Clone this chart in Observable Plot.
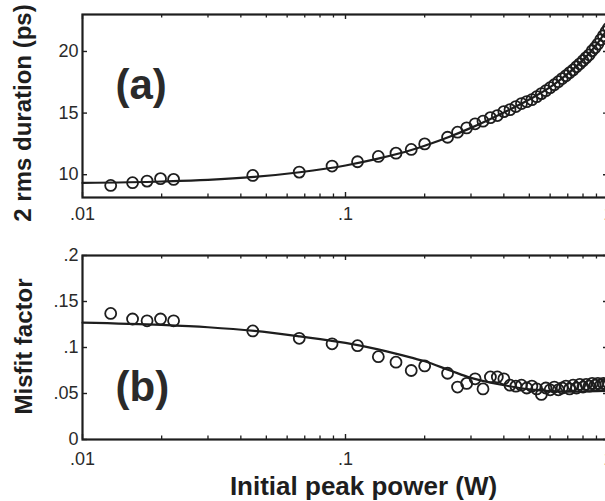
<!DOCTYPE html>
<html>
<head>
<meta charset="utf-8">
<script src="https://cdn.jsdelivr.net/npm/d3@7"></script>
<script src="https://cdn.jsdelivr.net/npm/@observablehq/plot@0.6"></script>
<style>
  html, body { margin: 0; padding: 0; background: white; }
  #chart { width: 605px; height: 501px; overflow: hidden; }
  #chart svg { display: block; }
</style>
</head>
<body>
<div id="chart"></div>
<script>
// ---- data ----
const power = [0.0128,0.0155,0.0176,0.0198,0.0222,0.0444,0.0667,0.0889,0.1111,0.1333,0.1556,0.1778,0.2000,
  0.2444,0.2667,0.2889,0.3111,0.3333,0.3556,0.3778,0.4000,0.4222,0.4444,0.4667,0.4889,0.5111,0.5333,0.5556,
  0.5778,0.6000,0.6222,0.6444,0.6667,0.6889,0.7111,0.7333,0.7556,0.7778,0.8000,0.8222,0.8444,0.8667,0.8889,
  0.9111,0.9333,0.9556,0.9778,1.0000];
const duration = [9.13,9.35,9.48,9.68,9.62,9.94,10.21,10.70,11.05,11.48,11.75,12.05,12.50,
  13.04,13.45,13.80,14.13,14.34,14.63,14.80,15.12,15.28,15.53,15.77,15.93,16.09,16.33,16.58,
  16.82,17.06,17.30,17.55,17.80,18.03,18.28,18.50,18.76,19.00,19.25,19.50,19.73,20.06,20.30,
  20.60,20.95,21.27,21.60,21.90];
const misfit = [0.137,0.131,0.129,0.131,0.129,0.118,0.110,0.104,0.102,0.090,0.084,0.075,0.080,
  0.072,0.057,0.061,0.066,0.055,0.068,0.068,0.066,0.059,0.058,0.059,0.056,0.058,0.055,0.049,
  0.056,0.054,0.057,0.054,0.056,0.058,0.055,0.059,0.056,0.060,0.057,0.060,0.058,0.061,0.059,
  0.061,0.059,0.061,0.060,0.061];

const fitPower    = [0.01,0.02,0.03,0.045,0.067,0.1,0.133,0.178,0.2,0.25,0.3,0.4,0.5,0.6,0.7,0.8,0.9,1.0];
const fitDuration = [9.33,9.45,9.58,9.82,10.2,10.75,11.3,12.0,12.35,13.1,13.8,15.05,16.1,17.1,18.2,19.3,20.55,21.95];
const fitMisfit   = [0.127,0.1245,0.122,0.118,0.112,0.105,0.098,0.089,0.085,0.075,0.067,0.059,0.0545,0.0525,0.052,0.0522,0.0525,0.053];

const xMajorTicks = [0.01, 0.1, 1];
const xMinorTicks = [0.02,0.03,0.04,0.05,0.06,0.07,0.08,0.09,0.2,0.3,0.4,0.5,0.6,0.7,0.8,0.9];
const yTicksA = [10, 15, 20];
const yTicksB = [0, 0.05, 0.1, 0.15, 0.2];

const labelA = "2 rms duration (ps)";
const labelB = "Misfit factor";
const labelX = "Initial peak power (W)";

// ---- helpers ----
const fmt = d => d === 0 ? "0" : d === 1 ? "1" : String(d).replace(/^0/, "");
const W = 605, ML = 82, MR = -3;
const FW = W - ML - MR;
const ink = "#1e1e1e";

function frameTicks(frameH, yTicks) {
  return [
    Plot.ruleX(xMajorTicks, {x: d => d, insetTop: frameH - 5, stroke: ink, strokeWidth: 1.4}),
    Plot.ruleX(xMajorTicks, {x: d => d, insetBottom: frameH - 5, stroke: ink, strokeWidth: 1.4}),
    Plot.ruleX(xMinorTicks, {x: d => d, insetTop: frameH - 3.5, stroke: ink, strokeWidth: 1.3}),
    Plot.ruleX(xMinorTicks, {x: d => d, insetBottom: frameH - 3.5, stroke: ink, strokeWidth: 1.3}),
    Plot.ruleY(yTicks, {y: d => d, insetRight: FW - 5, stroke: ink, strokeWidth: 1.4}),
    Plot.ruleY(yTicks, {y: d => d, insetLeft: FW - 5, stroke: ink, strokeWidth: 1.4})
  ];
}

const fitA = fitPower.map((p, i) => ({p, v: fitDuration[i]}));
const fitB = fitPower.map((p, i) => ({p, v: fitMisfit[i]}));
const ptsA = power.map((p, i) => ({p, v: duration[i]}));
const ptsB = power.map((p, i) => ({p, v: misfit[i]}));

const style = {fontFamily: "'Liberation Sans', Arial, sans-serif", fontSize: "18px", color: "#2a2a2a", background: "white", overflow: "hidden"};

// ---- panel (a) ----
const hA = 230, mtA = 14, mbA = 33;
const plotA = Plot.plot({
  width: W, height: hA,
  marginLeft: ML, marginRight: MR, marginTop: mtA, marginBottom: mbA,
  style,
  x: {type: "log", domain: [0.01, 1]},
  y: {domain: [8.15, 23]},
  marks: [
    Plot.axisX(xMajorTicks, {tickSize: 0, tickPadding: 10, tickFormat: fmt, label: null, fontSize: 18}),
    Plot.axisY(yTicksA, {tickSize: 0, tickPadding: 4, tickFormat: fmt, label: null, fontSize: 18}),
    ...frameTicks(hA - mtA - mbA, yTicksA),
    Plot.line(fitA, {x: "p", y: "v", curve: "monotone-x", stroke: ink, strokeWidth: 2.2}),
    Plot.dot(ptsA, {x: "p", y: "v", r: 5.5, stroke: ink, strokeWidth: 1.8, fill: "none"}),
    Plot.frame({stroke: ink, strokeWidth: 2.2}),
    Plot.text([labelA], {frameAnchor: "left", textAnchor: "middle", lineAnchor: "middle", dx: -59, dy: 7, rotate: -90, fontSize: 24, fontWeight: "bold", fill: ink}),
    Plot.text(["(a)"], {frameAnchor: "top-left", dx: 33, dy: 71, textAnchor: "start", lineAnchor: "middle", fontSize: 42, fontWeight: "bold", fill: "#2a2a2a"})
  ]
});

// ---- panel (b) ----
const hB = 271, mtB = 25, mbB = 62;
const plotB = Plot.plot({
  width: W, height: hB,
  marginLeft: ML, marginRight: MR, marginTop: mtB, marginBottom: mbB,
  style,
  x: {type: "log", domain: [0.01, 1]},
  y: {domain: [0, 0.2]},
  marks: [
    Plot.axisX(xMajorTicks, {tickSize: 0, tickPadding: 13, tickFormat: fmt, label: null, fontSize: 18}),
    Plot.axisY(yTicksB, {tickSize: 0, tickPadding: 4, tickFormat: fmt, label: null, fontSize: 18}),
    ...frameTicks(hB - mtB - mbB, yTicksB),
    Plot.line(fitB, {x: "p", y: "v", curve: "monotone-x", stroke: ink, strokeWidth: 2.2}),
    Plot.dot(ptsB, {x: "p", y: "v", r: 5.5, stroke: ink, strokeWidth: 1.8, fill: "none"}),
    Plot.frame({stroke: ink, strokeWidth: 2.2}),
    Plot.text([labelB], {frameAnchor: "left", textAnchor: "middle", lineAnchor: "middle", dx: -58, dy: -1, rotate: -90, fontSize: 24, fontWeight: "bold", fill: ink}),
    Plot.text(["(b)"], {frameAnchor: "top-left", dx: 33, dy: 132, textAnchor: "start", lineAnchor: "middle", fontSize: 42, fontWeight: "bold", fill: "#2a2a2a"}),
    Plot.text([labelX], {frameAnchor: "bottom", textAnchor: "middle", lineAnchor: "middle", dx: 18, dy: 47, fontSize: 26, fontWeight: "bold", fill: ink})
  ]
});

const chart = document.getElementById("chart");
chart.appendChild(plotA);
chart.appendChild(plotB);
</script>
</body>
</html>
